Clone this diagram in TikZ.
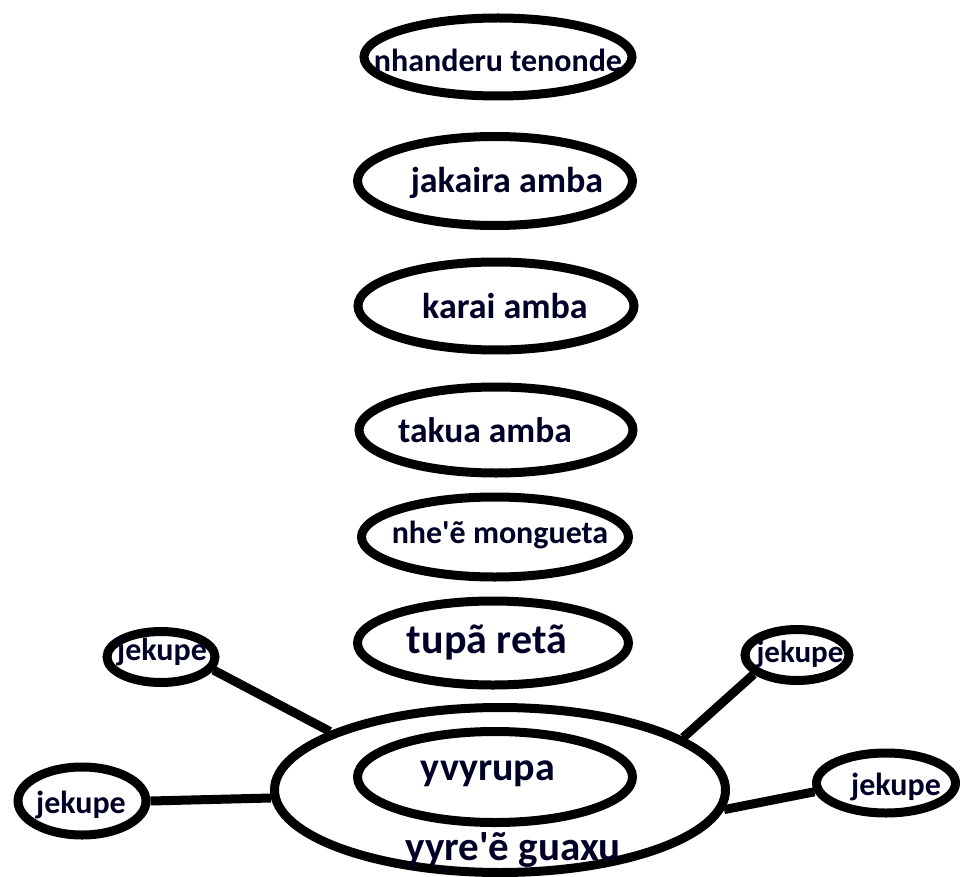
\documentclass[tikz,border=0pt]{standalone}
\usepackage{fontspec}
\setmainfont{Carlito}[Ligatures=TeXOff]
\usetikzlibrary{shapes.geometric}
\begin{document}
\begin{tikzpicture}[x=1pt,y=-1pt,
  ring/.style={draw=black,line width=9pt,ellipse,inner sep=0pt},
  word/.style={inner sep=0pt,anchor=base,text=black!85!blue},
  fs/.style={font=\bfseries\fontsize{#1}{#1}\selectfont},
  link/.style={line width=9pt}]
\useasboundingbox[fill=white] (0,0) rectangle (960,877);

% vertical chain of layers
\node[ring,minimum width=268pt,minimum height=78pt] (e1) at (498,57) {};
\node[ring,minimum width=275pt,minimum height=89pt] (e2) at (495,181) {};
\node[ring,minimum width=276pt,minimum height=88pt] (e3) at (496,306) {};
\node[ring,minimum width=274pt,minimum height=86pt] (e4) at (496,430) {};
\node[ring,minimum width=267pt,minimum height=80pt] (e5) at (495,537) {};
\node[ring,minimum width=271pt,minimum height=84pt] (e6) at (493,643) {};

\node[word,fs=32] (t1) at (498,72) {nhanderu tenonde};
\node[word,fs=36] (t2) at (507,193) {jakaira amba};
\node[word,fs=36] (t3) at (505,318) {karai amba};
\node[word,fs=35.5] (t4) at (485,442) {takua amba};
\node[word,fs=32] (t5) at (500,543) {nhe'ẽ mongueta};
\node[word,fs=42] (t6) at (487,653) {tupã retã};

% ground: outer and inner ring
\node[ring,minimum width=451pt,minimum height=165pt] (outer) at (500,790) {};
\node[ring,minimum width=275pt,minimum height=91pt] (inner) at (495,777) {};
\node[word,fs=40] (tin) at (488,780) {yvyrupa};
\node[word,fs=41] (tout) at (513,860) {yyre'ẽ guaxu};

% surrounding nodes
\node[ring,minimum width=108pt,minimum height=51pt] (j1) at (161,657) {};
\node[ring,minimum width=128pt,minimum height=68pt] (j2) at (82,801) {};
\node[ring,minimum width=104pt,minimum height=51pt] (j3) at (797,655) {};
\node[ring,minimum width=139pt,minimum height=60pt] (j4) at (886,783) {};
\node[word,fs=32] (tj1) at (162,660) {jekupe};
\node[word,fs=32] (tj2) at (81,813) {jekupe};
\node[word,fs=31] (tj3) at (800,662) {jekupe};
\node[word,fs=32] (tj4) at (896,795) {jekupe};

% connectors
\draw[link] (j1.346) -- (outer.161.6);
\draw[link] (j2.0) -- (outer.182);
\draw[link] (j3.204) -- (outer.16);
\draw[link] (j4.187) -- (outer.-5);
\end{tikzpicture}
\end{document}
